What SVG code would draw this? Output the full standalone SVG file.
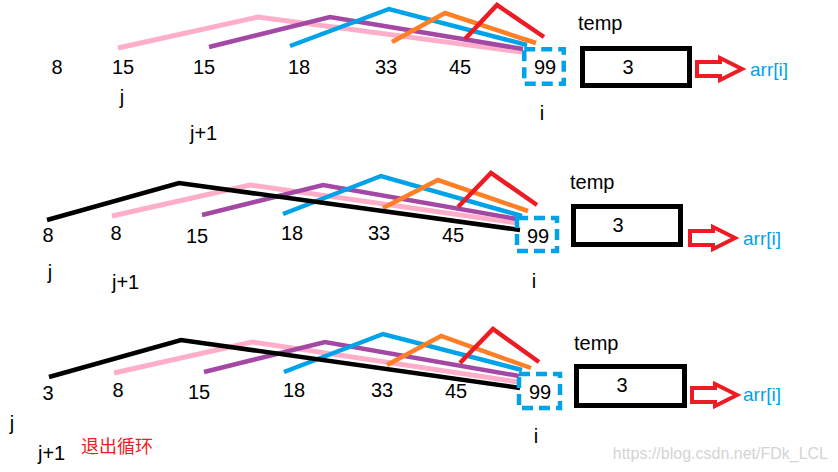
<svg xmlns="http://www.w3.org/2000/svg" width="838" height="472" viewBox="0 0 838 472">
<defs>
<style>
.t{font-family:"Liberation Sans",Arial,sans-serif;font-size:20px;fill:#000}
.m{text-anchor:middle}
.a{font-family:"Liberation Sans",Arial,sans-serif;font-size:19px;fill:#00a2e8}
.cn{font-family:"Noto Sans CJK SC",sans-serif;font-size:18px;fill:#ed1c24}
.wm{font-family:"Liberation Sans",Arial,sans-serif;font-size:16px;fill:#d4d4d4;text-anchor:end}
.ln{fill:none;stroke-width:4.5;stroke-linejoin:miter}
.pk{stroke:#ffaec9;stroke-width:5}
.pu{stroke:#a349a4}
.bl{stroke:#00a2e8}
.or{stroke:#ff7f27}
.rd{stroke:#ed1c24}
.bk{stroke:#000}
.box{fill:none;stroke:#000;stroke-width:5}
.dash{fill:none;stroke:#00a2e8;stroke-width:4.5;stroke-dasharray:11 6}
.arr{fill:#fff;stroke:#ed1c24;stroke-width:4}
</style>
<path id="arrow" class="arr" d="M2,-7 L25,-7 L25,-11 L47,0 L25,11 L25,7 L2,7 Z"/>
</defs>
<rect width="838" height="472" fill="#fff"/>

<g id="connectors">
<polyline class="ln pk" points="118,48 258,17 522,52"/>
<polyline class="ln pu" points="209,47 330,17 523,49"/>
<polyline class="ln bl" points="290,46 389,9 527,45"/>
<polyline class="ln or" points="392,42 445,13 536,43"/>
<polyline class="ln rd" points="465,39 497,5 544,37"/>

<polyline class="ln pk" points="112,216 250,185 517,223"/>
<polyline class="ln pu" points="202,215 323,185 517,219"/>
<polyline class="ln bl" points="283,214 381,176 522,216"/>
<polyline class="ln or" points="383,208 438,180 528,211"/>
<polyline class="ln rd" points="458,207 491,173 537,205"/>
<polyline class="ln bk" points="47,220 179,183 520,230"/>

<polyline class="ln pk" points="114,373 252,342 518,382"/>
<polyline class="ln pu" points="204,372 325,342 519,376"/>
<polyline class="ln bl" points="284,372 383,334 522,370"/>
<polyline class="ln or" points="387,365 441,336 531,368"/>
<polyline class="ln rd" points="460,363 493,329 539,362"/>
<polyline class="ln bk" points="49,377 181,340 520,388"/>
</g>

<g id="row1">
<text class="t m" x="57" y="74">8</text>
<text class="t m" x="123" y="74">15</text>
<text class="t m" x="204" y="74">15</text>
<text class="t m" x="299" y="74">18</text>
<text class="t m" x="386" y="74">33</text>
<text class="t m" x="460" y="74">45</text>
<text class="t m" x="545" y="74">99</text>
<text class="t m" x="122" y="104">j</text>
<text class="t" x="190" y="140">j+1</text>
<text class="t m" x="542" y="120">i</text>
</g>
<g id="i1"><rect class="dash" x="524.25" y="49.25" width="39.5" height="34.5"/></g>
<g id="temp1">
<text class="t" x="578" y="30">temp</text>
<rect class="box" x="582.5" y="48.5" width="107" height="37"/>
<text class="t m" x="628" y="74">3</text>
</g>
<g id="out1">
<use href="#arrow" x="695" y="69"/>
<text class="a" x="750" y="76">arr[i]</text>
</g>

<g id="row2">
<text class="t m" x="48" y="242">8</text>
<text class="t m" x="116" y="240">8</text>
<text class="t m" x="197" y="243">15</text>
<text class="t m" x="292" y="240">18</text>
<text class="t m" x="379" y="240">33</text>
<text class="t m" x="453" y="242">45</text>
<text class="t m" x="538" y="243">99</text>
<text class="t m" x="50" y="279">j</text>
<text class="t" x="112" y="289">j+1</text>
<text class="t m" x="534" y="288">i</text>
</g>
<g id="i2"><rect class="dash" x="517" y="218" width="40" height="33"/></g>
<g id="temp2">
<text class="t" x="570" y="189">temp</text>
<rect class="box" x="573.5" y="206.5" width="107" height="38"/>
<text class="t m" x="618" y="232">3</text>
</g>
<g id="out2">
<use href="#arrow" x="688" y="238"/>
<text class="a" x="743" y="245">arr[i]</text>
</g>

<g id="row3">
<text class="t m" x="48" y="400">3</text>
<text class="t m" x="118" y="397">8</text>
<text class="t m" x="199" y="399">15</text>
<text class="t m" x="294" y="397">18</text>
<text class="t m" x="382" y="397">33</text>
<text class="t m" x="456" y="398">45</text>
<text class="t m" x="540" y="399">99</text>
<text class="t m" x="12" y="430">j</text>
<text class="t" x="38" y="460">j+1</text>
<text class="cn" x="81" y="453">退出循环</text>
<text class="t m" x="536" y="443">i</text>
</g>
<g id="i3"><rect class="dash" x="519" y="374" width="41" height="34"/></g>
<g id="temp3">
<text class="t" x="574" y="350">temp</text>
<rect class="box" x="576.5" y="366.5" width="108" height="39"/>
<text class="t m" x="622" y="392">3</text>
</g>
<g id="out3">
<use href="#arrow" x="690" y="395"/>
<text class="a" x="743" y="401">arr[i]</text>
</g>

<text class="wm" x="828" y="459">https://blog.csdn.net/FDk_LCL</text>
</svg>
